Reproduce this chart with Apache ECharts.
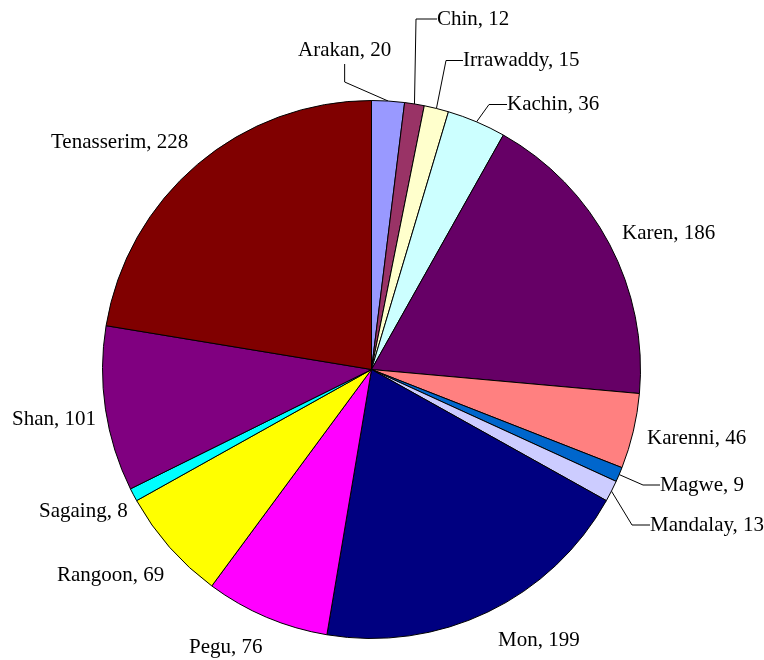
<!DOCTYPE html>
<html>
<head>
<meta charset="utf-8">
<script src="https://cdn.jsdelivr.net/npm/echarts@6/dist/echarts.min.js"></script>
<style>
html,body{margin:0;padding:0;background:#fff;}
#chart{width:764px;height:660px;}
</style>
</head>
<body>
<div id="chart"></div>
<script>
// ---- data ----
const categories = ['Arakan','Chin','Irrawaddy','Kachin','Karen','Karenni','Magwe','Mandalay','Mon','Pegu','Rangoon','Sagaing','Shan','Tenasserim'];
const values = [20, 12, 15, 36, 186, 46, 9, 13, 199, 76, 69, 8, 101, 228];

// ---- styles ----
const sliceColors = ['#9999FF','#993366','#FFFFCC','#CCFFFF','#660066','#FF8080','#0066CC','#CCCCFF','#000080','#FF00FF','#FFFF00','#00FFFF','#800080','#800000'];
// label placement (left x, middle y), leader line flag & horizontal stub length
const labelPlace = {
  Arakan:     {x: 298, y: 50,    line: true,  len2: 18, padding: [0,0,7,0]},
  Chin:       {x: 437, y: 19,    line: true,  len2: 21, padding: [0,60,0,0]},
  Irrawaddy:  {x: 463, y: 60.5,  line: true,  len2: 17},
  Kachin:     {x: 507, y: 104.5, line: true,  len2: 18},
  Karen:      {x: 622, y: 233,   line: false},
  Karenni:    {x: 647, y: 438,   line: false},
  Magwe:      {x: 660, y: 485,   line: true,  len2: 17},
  Mandalay:   {x: 650, y: 525,   line: true,  len2: 18},
  Mon:        {x: 498, y: 640,   line: false},
  Pegu:       {x: 189, y: 647.5, line: false},
  Rangoon:    {x: 57,  y: 575.5, line: false},
  Sagaing:    {x: 39,  y: 511,   line: false},
  Shan:       {x: 12,  y: 419,   line: false},
  Tenasserim: {x: 51,  y: 142.5, line: false}
};

const seriesData = categories.map((name, i) => {
  const p = labelPlace[name];
  const item = {
    name: name,
    value: values[i],
    itemStyle: {color: sliceColors[i]},
    labelLine: {show: p.line, length: 8, length2: p.len2 || 8}
  };
  if (p.padding) item.label = {padding: p.padding, backgroundColor: 'rgba(255,255,255,0)'};
  return item;
});

const chart = echarts.init(document.getElementById('chart'), null, {renderer: 'canvas'});
chart.setOption({
  backgroundColor: '#ffffff',
  animation: false,
  series: [{
    type: 'pie',
    center: [371.5, 369.5],
    radius: 269,
    startAngle: 90,
    clockwise: true,
    avoidLabelOverlap: false,
    silent: true,
    itemStyle: {borderColor: '#000', borderWidth: 1},
    label: {
      show: true,
      position: 'outside',
      formatter: '{b}, {c}',
      fontFamily: '"Liberation Serif", "Times New Roman", serif',
      fontSize: 21,
      color: '#000',
      overflow: 'none'
    },
    labelLine: {
      lineStyle: {color: '#000', width: 1},
      minTurnAngle: 0,
      maxSurfaceAngle: 180,
      smooth: false
    },
    labelLayout: function (params) {
      const name = categories[params.dataIndex];
      const p = labelPlace[name];
      return {x: p.x, y: p.y, align: 'left', verticalAlign: 'middle'};
    },
    data: seriesData
  }]
});
</script>
</body>
</html>
